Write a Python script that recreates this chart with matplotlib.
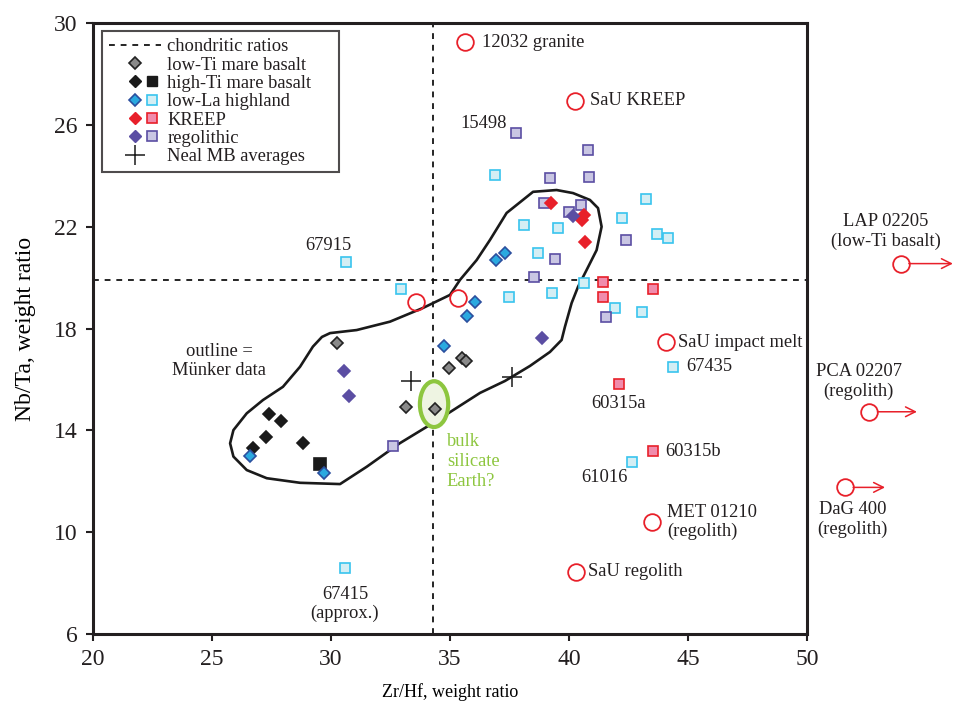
import matplotlib
matplotlib.use("Agg")
from matplotlib import pyplot as plt
from matplotlib.lines import Line2D
from matplotlib.patches import Ellipse, Polygon
from matplotlib.legend_handler import HandlerTuple

plt.rcParams['font.family'] = ['Liberation Serif', 'DejaVu Serif']
plt.rcParams['text.color'] = '#231f20'

# chondritic ratios
chondritic_zrhf = 34.3
chondritic_nbta = 19.9

# low-Ti mare basalt (diamonds)
lowti_x = [30.24, 33.15, 34.38, 34.97, 35.52, 35.66]
lowti_y = [17.42, 14.91, 14.84, 16.46, 16.85, 16.74]

# high-Ti mare basalt
highti_dia_x = [27.39, 27.89, 27.28, 26.74, 28.84]
highti_dia_y = [14.63, 14.38, 13.75, 13.32, 13.49]
highti_sq_x = [29.54]
highti_sq_y = [12.68]

# low-La highland
lowla_dia_x = [26.6, 29.72, 34.76, 36.05, 35.7, 36.93, 37.31]
lowla_dia_y = [12.99, 12.31, 17.31, 19.05, 18.49, 20.69, 20.98]
lowla_sq_x = [30.63, 32.94, 30.59, 36.89, 38.11, 39.52, 38.68, 37.49, 39.3,
              40.63, 42.24, 43.22, 43.7, 44.14, 41.93, 43.08, 44.38, 42.66]
lowla_sq_y = [20.6, 19.54, 8.59, 24.03, 22.07, 21.96, 20.95, 19.25, 19.38,
              19.78, 22.35, 23.09, 21.71, 21.54, 18.82, 18.64, 16.5, 12.75]

# KREEP
kreep_dia_x = [39.24, 40.63, 40.56, 40.67]
kreep_dia_y = [22.92, 22.46, 22.26, 21.41]
kreep_sq_x = [41.44, 41.44, 43.54, 42.11, 43.52]
kreep_sq_y = [19.82, 19.25, 19.54, 15.82, 13.19]

# regolithic
rego_dia_x = [30.55, 30.74, 40.18, 38.85]
rego_dia_y = [16.34, 15.36, 22.42, 17.62]
rego_sq_x = [37.77, 40.81, 39.2, 40.84, 38.96, 40.01, 40.5, 42.38, 39.41,
             38.54, 41.54, 32.62]
rego_sq_y = [25.67, 25.01, 23.9, 23.96, 22.94, 22.59, 22.85, 21.48, 20.73,
             20.04, 18.46, 13.4]

# Neal MB averages
neal_x = [33.36, 37.6]
neal_y = [15.95, 16.1]

# open circles (other samples)
circ_x = [35.63, 40.25, 33.57, 35.32, 44.08, 43.47, 40.28]
circ_y = [29.25, 26.94, 19.04, 19.19, 17.47, 10.4, 8.44]

# off-scale samples (circle position, arrow end)
off_x = [53.94, 52.62, 51.6]
off_y = [20.55, 14.73, 11.76]
off_end = [56.13, 54.62, 53.28]

# Muenker data outline
outline_x = [29.96, 31.08, 32.48, 33.87, 35.0, 35.42, 36.12, 36.68, 37.38,
             38.49, 39.48, 40.17, 40.88, 41.22, 41.37, 41.16, 40.74, 40.38,
             40.11, 39.83, 39.69, 39.2, 38.36, 37.31, 36.26, 34.29, 32.9,
             31.5, 30.38, 28.7, 27.3, 26.46, 25.9, 25.76, 25.9, 26.46, 27.14,
             27.98, 28.7, 29.24, 29.62]
outline_y = [17.82, 17.94, 18.27, 18.81, 19.32, 19.91, 20.69, 21.48, 22.54,
             23.37, 23.44, 23.32, 23.05, 22.73, 22.0, 21.08, 20.3, 19.64,
             19.0, 18.07, 17.55, 17.08, 16.53, 15.94, 15.47, 14.29, 13.5,
             12.57, 11.89, 11.94, 12.12, 12.44, 12.97, 13.49, 14.01, 14.67,
             15.19, 15.71, 16.5, 17.29, 17.67]

# sample labels: text, x, y, alignment
labels = [
    ("12032 granite", 36.34, 29.25, 'left'),
    ("SaU KREEP", 40.88, 26.94, 'left'),
    ("15498", 37.39, 26.07, 'right'),
    ("67915", 29.87, 21.28, 'center'),
    ("outline =\nMünker data", 25.29, 16.72, 'center'),
    ("SaU impact melt", 44.58, 17.47, 'left'),
    ("67435", 44.92, 16.49, 'left'),
    ("60315a", 42.1, 15.04, 'center'),
    ("60315b", 44.03, 13.15, 'left'),
    ("61016", 41.51, 12.13, 'center'),
    ("MET 01210\n(regolith)", 44.12, 10.4, 'left'),
    ("SaU regolith", 40.8, 8.44, 'left'),
    ("67415\n(approx.)", 30.59, 7.18, 'center'),
    ("LAP 02205\n(low-Ti basalt)", 53.32, 21.81, 'center'),
    ("PCA 02207\n(regolith)", 52.18, 15.92, 'center'),
    ("DaG 400\n(regolith)", 51.93, 10.5, 'center'),
]

red = '#e8202a'
fs = 13.3


def main():
    fig = plt.figure(figsize=(9.54, 7.04), dpi=100)
    ax = fig.add_axes([0.0975, 0.0994, 0.7484, 0.8679])

    # chondritic reference lines
    ax.axvline(chondritic_zrhf, color='black', lw=1.2, ls=(0, (3.5, 3.5)), zorder=1)
    ax.axhline(chondritic_nbta, color='black', lw=1.2, ls=(0, (3.5, 3.5)), zorder=1)

    # outline of Muenker data
    ax.add_patch(Polygon(list(zip(outline_x, outline_y)), closed=True,
                         fill=False, ec='#1a1a1a', lw=1.9, joinstyle='round',
                         zorder=2))

    # bulk silicate Earth ellipse
    ax.add_patch(Ellipse((34.33, 15.03), 1.19, 1.8, fc='#eef4e2', ec='#8dc63f',
                         lw=3, zorder=2))
    ax.text(34.87, 12.78, "bulk\nsilicate\nEarth?", color='#8dc63f',
            fontsize=fs, ha='left', va='center', linespacing=1.2)

    dk = dict(ls='none', markeredgewidth=1.2, zorder=4)
    ax.plot(lowti_x, lowti_y, 'D', ms=6.2, mfc='#8a8a8a', mec='#222222', **dk)
    ax.plot(highti_dia_x, highti_dia_y, 'D', ms=6.2, mfc='#1a1a1a',
            mec='#1a1a1a', **dk)
    ax.plot(highti_sq_x, highti_sq_y, 's', ms=8, mfc='#1a1a1a', mec='#1a1a1a',
            **dk)
    ax.plot(lowla_sq_x, lowla_sq_y, 's', ms=7, mfc='#d4eef4', mec='#38c4ee',
            **dk)
    ax.plot(lowla_dia_x, lowla_dia_y, 'D', ms=6.2, mfc='#2aa9e0', mec='#2b4f9e',
            **dk)
    ax.plot(rego_sq_x, rego_sq_y, 's', ms=7, mfc='#c9c6e3', mec='#5b4ea3', **dk)
    ax.plot(kreep_sq_x, kreep_sq_y, 's', ms=7, mfc='#f08cac', mec=red, **dk)
    ax.plot(kreep_dia_x, kreep_dia_y, 'D', ms=6.2, mfc=red, mec=red, **dk)
    ax.plot(rego_dia_x, rego_dia_y, 'D', ms=6.2, mfc='#5b4ea3', mec='#5b4ea3',
            **dk)
    ax.plot(neal_x, neal_y, '+', ms=15, mew=1.1, color='#1a1a1a', ls='none',
            zorder=4)
    ax.plot(circ_x, circ_y, 'o', ms=12, mfc='none', mec=red, mew=1.3,
            ls='none', zorder=4)

    # off-scale samples with arrows
    ax.plot(off_x, off_y, 'o', ms=12, mfc='none', mec=red, mew=1.3,
            ls='none', zorder=4, clip_on=False)
    for x, y, xe in zip(off_x, off_y, off_end):
        ax.annotate("", xy=(xe, y), xytext=(x + 0.34, y),
                    arrowprops=dict(arrowstyle='->,head_length=0.7,head_width=0.35',
                                    color=red, lw=1.1, shrinkA=0, shrinkB=0),
                    annotation_clip=False)

    for txt, x, y, ha in labels:
        ax.text(x, y, txt, fontsize=fs, ha=ha, va='center', linespacing=1.2,
                clip_on=False)

    ax.set_xlim(20, 50)
    ax.set_ylim(6, 30)
    ax.set_xticks([20, 25, 30, 35, 40, 45, 50])
    ax.set_yticks([6, 10, 14, 18, 22, 26, 30])
    ax.tick_params(direction='out', length=5, width=1.5, labelsize=17, pad=6,
                   colors='#231f20')
    for s in ax.spines.values():
        s.set_linewidth(2.2)
        s.set_color('#231f20')
    ax.set_xlabel("Zr/Hf, weight ratio", fontsize=13, labelpad=9)
    ax.set_ylabel("Nb/Ta, weight ratio", fontsize=17, labelpad=13)

    # legend
    empty = Line2D([], [], ls='none')
    h_chon = Line2D([], [], color='black', lw=1.2, ls=(0, (3.5, 3.5)))
    h_lowti = Line2D([], [], marker='D', ms=6.2, mfc='#8a8a8a', mec='#222222',
                     ls='none', mew=1.2)
    h_hd = Line2D([], [], marker='D', ms=6.2, mfc='#1a1a1a', mec='#1a1a1a',
                  ls='none')
    h_hs = Line2D([], [], marker='s', ms=7, mfc='#1a1a1a', mec='#1a1a1a',
                  ls='none')
    h_ld = Line2D([], [], marker='D', ms=6.2, mfc='#2aa9e0', mec='#2b4f9e',
                  ls='none', mew=1.2)
    h_ls = Line2D([], [], marker='s', ms=7, mfc='#d4eef4', mec='#38c4ee',
                  ls='none', mew=1.2)
    h_kd = Line2D([], [], marker='D', ms=6.2, mfc=red, mec=red, ls='none')
    h_ks = Line2D([], [], marker='s', ms=7, mfc='#f08cac', mec=red, ls='none',
                  mew=1.2)
    h_rd = Line2D([], [], marker='D', ms=6.2, mfc='#5b4ea3', mec='#5b4ea3',
                  ls='none')
    h_rs = Line2D([], [], marker='s', ms=7, mfc='#c9c6e3', mec='#5b4ea3',
                  ls='none', mew=1.2)
    h_neal = Line2D([], [], marker='+', ms=15, mew=1.1, color='#1a1a1a',
                    ls='none')
    leg = ax.legend([h_chon, (empty, h_lowti, empty), (empty, h_hd, h_hs),
                     (empty, h_ld, h_ls), (empty, h_kd, h_ks),
                     (empty, h_rd, h_rs), (empty, h_neal, empty)],
                    ["chondritic ratios", "low-Ti mare basalt",
                     "high-Ti mare basalt", "low-La highland", "KREEP",
                     "regolithic", "Neal MB averages"],
                    handler_map={tuple: HandlerTuple(ndivide=None, pad=0)},
                    loc='upper left', bbox_to_anchor=(0.012, 0.987, 0.332, 0.0),
                    mode='expand', borderaxespad=0, fontsize=fs,
                    handlelength=2.8, handletextpad=0.36, labelspacing=0.07,
                    borderpad=0.4, fancybox=False, frameon=True)
    leg.get_frame().set_edgecolor('#231f20')
    leg.get_frame().set_linewidth(1.5)

    fig.savefig("out.png", dpi=100)


main()
